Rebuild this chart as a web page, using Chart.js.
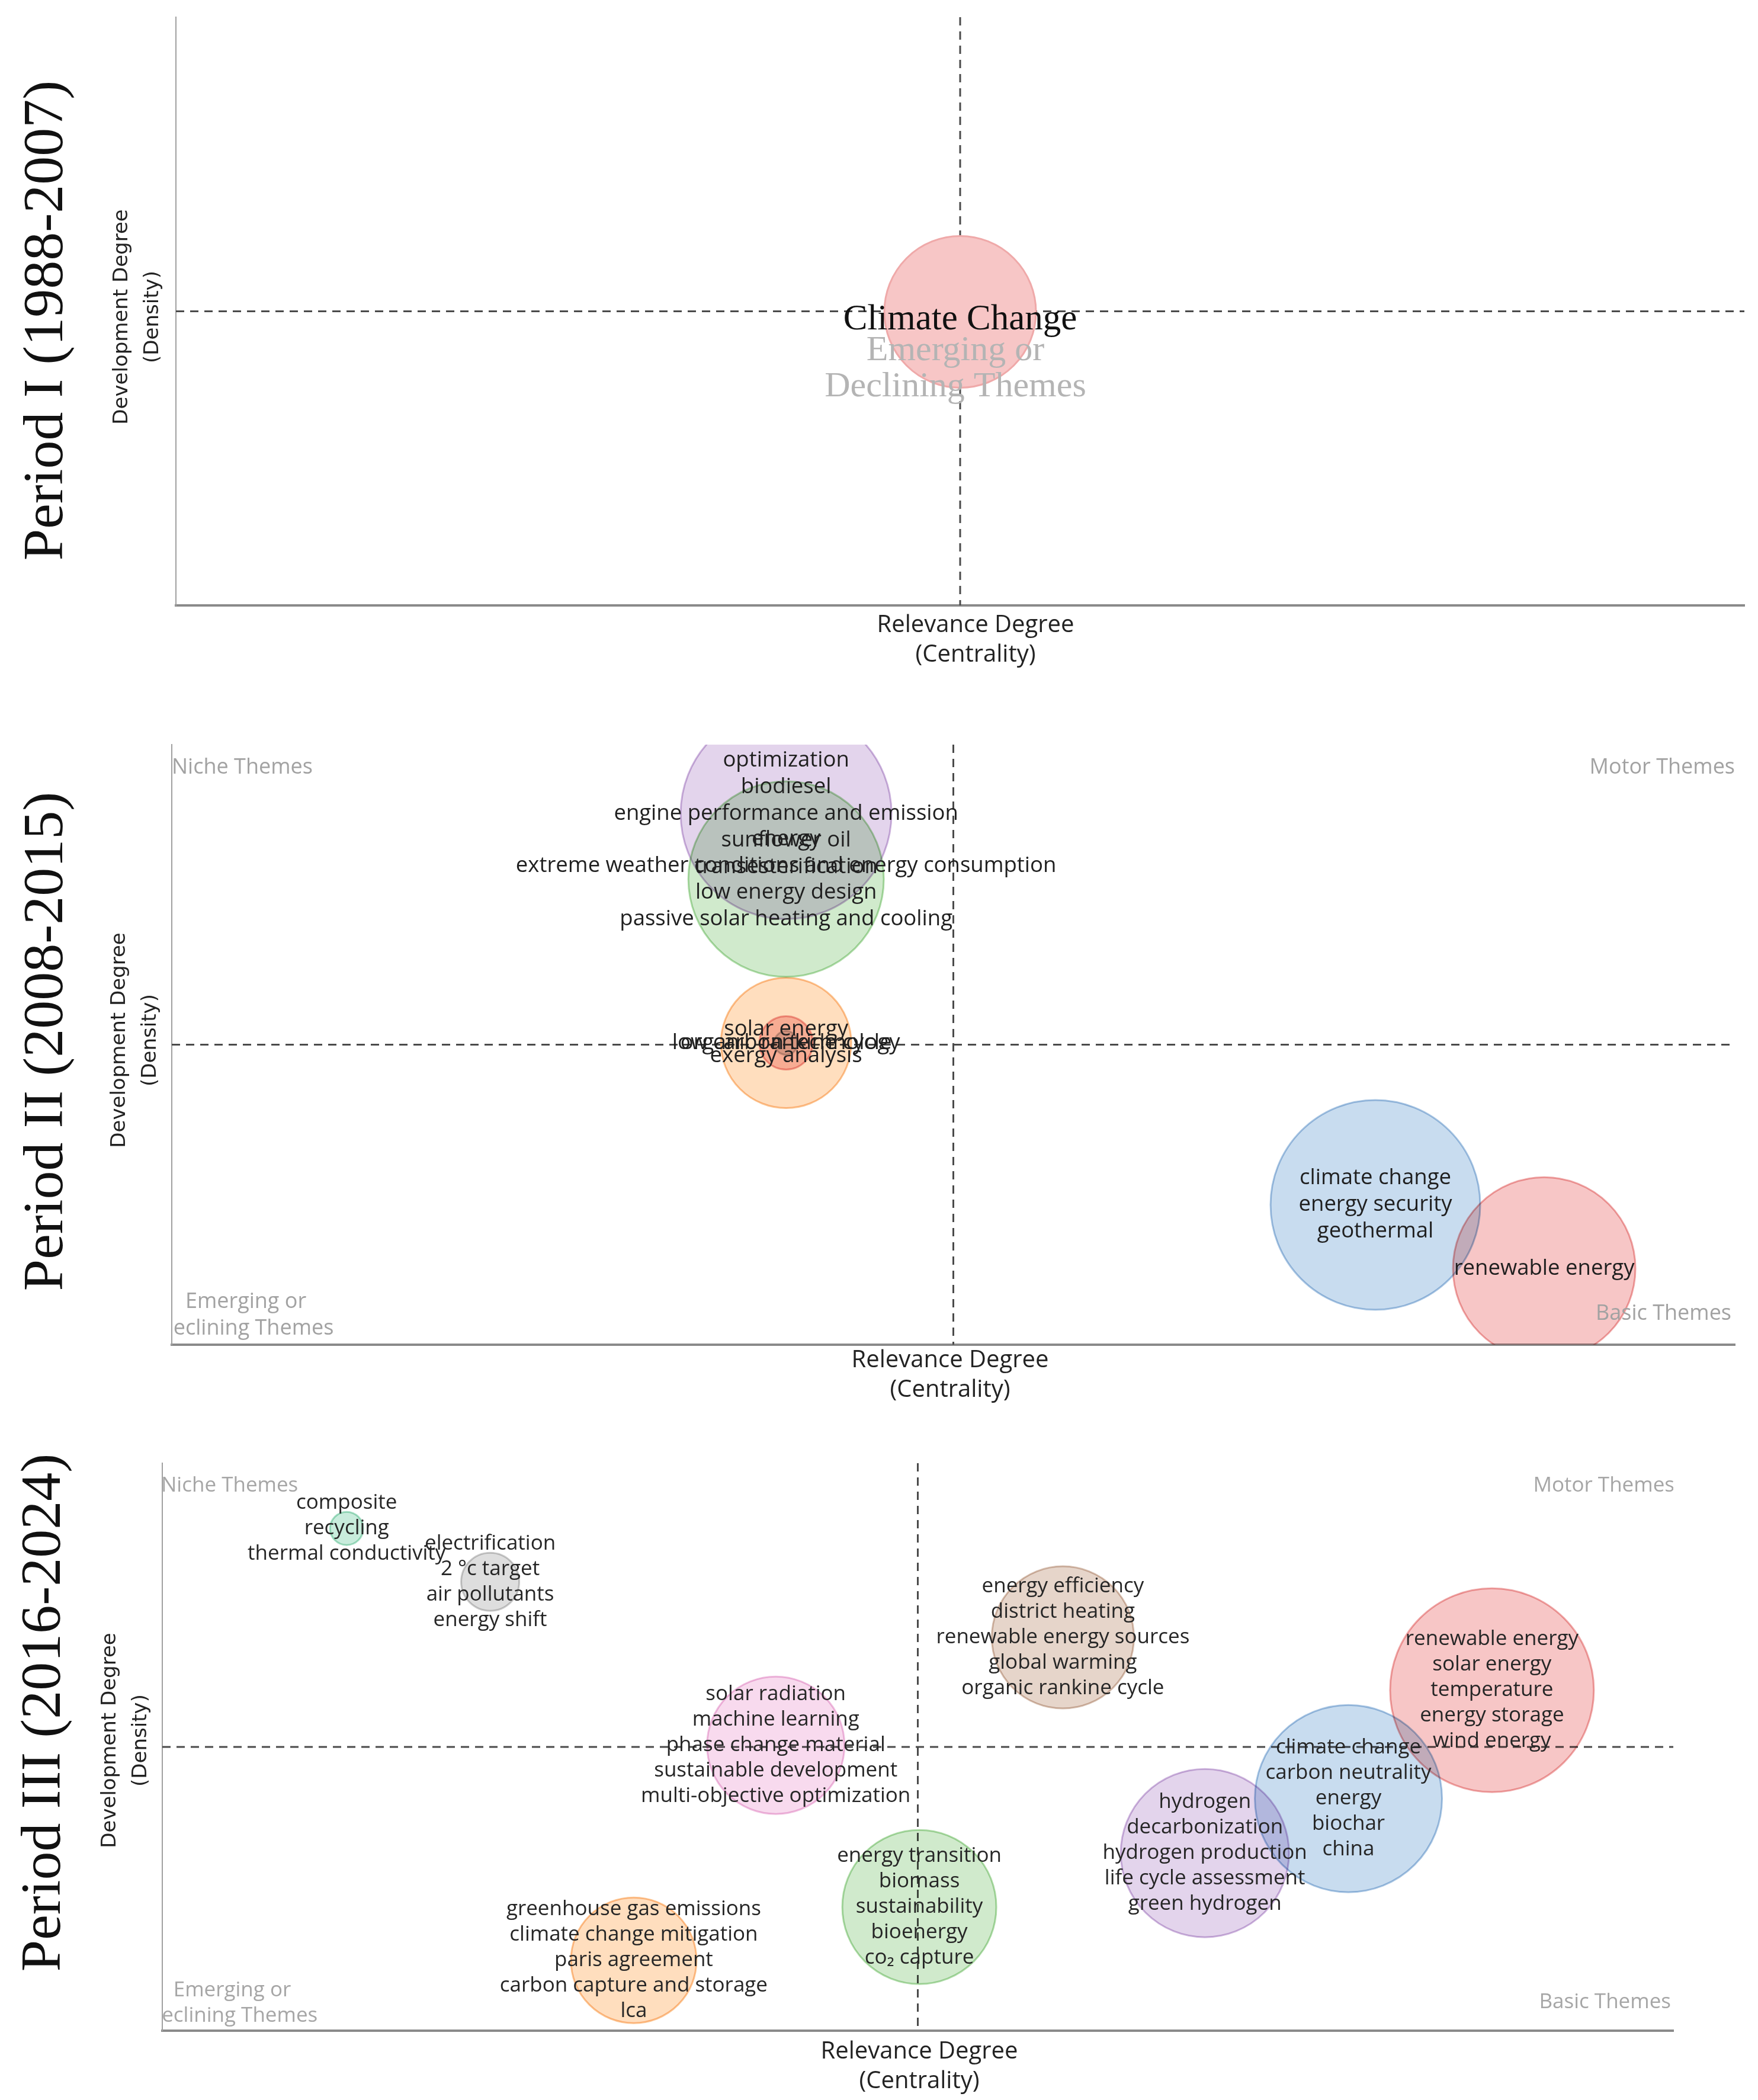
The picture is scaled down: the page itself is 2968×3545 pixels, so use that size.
<!DOCTYPE html>
<html>
<head>
<meta charset="utf-8">
<script src="https://cdn.jsdelivr.net/npm/chart.js@4.4.1/dist/chart.umd.min.js"></script>
<style>
    html, body { margin: 0; padding: 0; background: #fff; }
    #page { position: relative; width: 2968px; height: 3545px; }
    canvas { position: absolute; left: 0; }
</style>
</head>
<body>
<div id="page">
    <canvas id="period1" width="2968" height="1160" style="top:0"></canvas>
    <canvas id="period2" width="2968" height="1240" style="top:1160px"></canvas>
    <canvas id="period3" width="2968" height="1145" style="top:2400px"></canvas>
</div>
<script>
// Period I (1988-2007)
const p1Themes = [['Climate Change']];
const p1Centrality = [50.0];
const p1Density = [49.9];
const p1Weight = [128];

// Period II (2008-2015)
const p2Themes = [
    ['optimization', 'biodiesel', 'engine performance and emission', 'sunflower oil', 'transesterification'],
    ['energy', 'extreme weather conditions and energy consumption', 'low energy design', 'passive solar heating and cooling'],
    ['solar energy', 'exergy analysis'],
    ['low carbon technology'],
    ['organic rankine cycle'],
    ['climate change', 'energy security', 'geothermal'],
    ['renewable energy'],
];
const p2Centrality = [39.3, 39.3, 39.3, 39.3, 39.3, 77.0, 87.8];
const p2Density = [88.5, 77.6, 50.3, 50.3, 50.3, 23.3, 12.7];
const p2Weight = [178, 165, 110, 45, 20, 177, 154];

// Period III (2016-2024)
const p3Themes = [
    ['composite', 'recycling', 'thermal conductivity'],
    ['electrification', '2 °c target', 'air pollutants', 'energy shift'],
    ['energy efficiency', 'district heating', 'renewable energy sources', 'global warming', 'organic rankine cycle'],
    ['renewable energy', 'solar energy', 'temperature', 'energy storage', 'wind energy'],
    ['solar radiation', 'machine learning', 'phase change material', 'sustainable development', 'multi-objective optimization'],
    ['climate change', 'carbon neutrality', 'energy', 'biochar', 'china'],
    ['hydrogen', 'decarbonization', 'hydrogen production', 'life cycle assessment', 'green hydrogen'],
    ['energy transition', 'biomass', 'sustainability', 'bioenergy', 'co\u2082 capture'],
    ['greenhouse gas emissions', 'climate change mitigation', 'paris agreement', 'carbon capture and storage', 'lca'],
];
const p3Centrality = [12.2, 21.7, 59.6, 88.0, 40.6, 78.5, 69.0, 50.1, 31.2];
const p3Density = [88.5, 79.1, 69.3, 60.0, 50.3, 40.9, 31.3, 21.8, 12.4];
const p3Weight = [28, 49, 120, 172, 116, 158, 142, 130, 106];

const quadrantMid = 50;

// light tints, combined with multiply blending where bubbles overlap
const palette = {
    red: { fill: '#f7c6c6', line: '#efa9a9' },
    blue: { fill: '#c8dcef', line: '#a9c6e3' },
    purple: { fill: '#e3d4ec', line: '#cfb7de' },
    green: { fill: '#d0eacc', line: '#b0dca9' },
    orange: { fill: '#ffdebe', line: '#fbc592' },
    pink: { fill: '#f8daee', line: '#efbfe0' },
    brown: { fill: '#e6d5ca', line: '#d6bfb0' },
    gray: { fill: '#dedede', line: '#cbcbcb' },
    teal: { fill: '#c8ecdc', line: '#a8dfc6' },
};

const quadLines = {
    id: 'quadLines',
    beforeDatasetsDraw(chart) {
        const { ctx, chartArea: a, scales: { x, y } } = chart;
        const px = x.getPixelForValue(quadrantMid);
        const py = y.getPixelForValue(quadrantMid);
        ctx.save();
        ctx.strokeStyle = '#4a4a4a';
        ctx.lineWidth = 3;
        ctx.setLineDash([14, 10]);
        ctx.beginPath();
        ctx.moveTo(px, a.top);
        ctx.lineTo(px, a.bottom);
        ctx.moveTo(a.left, py);
        ctx.lineTo(a.right, py);
        ctx.stroke();
        ctx.restore();
    },
};

const blend = {
    id: 'blend',
    beforeDatasetsDraw(chart, args, opts) {
        chart.ctx.globalCompositeOperation = opts.mode;
    },
    afterDatasetsDraw(chart) {
        chart.ctx.globalCompositeOperation = 'source-over';
    },
};

const themeLabels = {
    id: 'themeLabels',
    afterDatasetsDraw(chart, args, opts) {
        const { ctx } = chart;
        const meta = chart.getDatasetMeta(0);
        ctx.save();
        ctx.font = opts.font;
        ctx.fillStyle = opts.color;
        ctx.textAlign = 'center';
        ctx.textBaseline = 'middle';
        opts.themes.forEach((lines, i) => {
            const pt = meta.data[i];
            const start = pt.y - (lines.length - 1) * opts.lineGap / 2 + opts.offset;
            lines.forEach((t, k) => ctx.fillText(t, pt.x, start + k * opts.lineGap));
        });
        ctx.restore();
    },
};

const panelText = {
    id: 'panelText',
    afterDraw(chart, args, opts) {
        const { ctx, chartArea: a } = chart;
        ctx.save();
        ctx.textBaseline = 'middle';

        // period name
        ctx.save();
        ctx.translate(opts.period.x, opts.period.y);
        ctx.rotate(-Math.PI / 2);
        ctx.font = '96px "Liberation Serif", serif';
        ctx.fillStyle = '#111';
        ctx.textAlign = 'center';
        ctx.fillText(opts.period.text, 0, 0);
        ctx.restore();

        // y axis title
        ctx.save();
        ctx.translate(opts.yTitle.x, opts.yTitle.y);
        ctx.rotate(-Math.PI / 2);
        ctx.font = '34px "DejaVu Sans", sans-serif';
        ctx.fillStyle = '#222';
        ctx.textAlign = 'center';
        ctx.fillText('Development Degree', 0, 0);
        ctx.fillText('(Density)', 0, 52);
        ctx.restore();

        // x axis title
        ctx.font = '40px "Open Sans", sans-serif';
        ctx.fillStyle = '#222';
        ctx.textAlign = 'center';
        ctx.fillText('Relevance Degree', opts.xTitle.x, opts.xTitle.y);
        ctx.fillText('(Centrality)', opts.xTitle.x, opts.xTitle.y + 50);

        // quadrant names, clipped to the plot
        ctx.beginPath();
        ctx.rect(a.left, a.top, a.right - a.left, a.bottom - a.top);
        ctx.clip();
        ctx.font = opts.quadFont;
        ctx.fillStyle = opts.quadColor;
        opts.quadrants.forEach(q => {
            ctx.textAlign = q.align;
            ctx.fillText(q.text, q.x, q.y);
        });
        ctx.restore();
    },
};

function buildPanel(id, cfg) {
    const points = cfg.centrality.map((c, i) => ({ x: c, y: cfg.density[i], r: cfg.weight[i] }));
    return new Chart(document.getElementById(id), {
        type: 'bubble',
        data: {
            datasets: [{
                data: points,
                backgroundColor: cfg.colors.map(c => c.fill),
                borderColor: cfg.colors.map(c => c.line),
                borderWidth: 3,
            }],
        },
        options: {
            responsive: false,
            animation: false,
            devicePixelRatio: 1,
            events: [],
            layout: { padding: cfg.padding, autoPadding: false },
            plugins: {
                legend: { display: false },
                tooltip: { enabled: false },
                blend: { mode: cfg.blendMode },
                themeLabels: { themes: cfg.themes, font: cfg.labelFont, color: cfg.labelColor, lineGap: cfg.lineGap, offset: cfg.labelOffset },
                panelText: cfg.text,
            },
            scales: {
                x: {
                    type: 'linear', min: 0, max: 100,
                    ticks: { display: false },
                    grid: { display: false, drawTicks: false },
                    border: { display: true, color: '#8a8a8a', width: 4 },
                },
                y: {
                    type: 'linear', min: 0, max: 100,
                    ticks: { display: false },
                    grid: { display: false, drawTicks: false },
                    border: { display: true, color: '#a0a0a0', width: 2 },
                },
            },
        },
        plugins: [quadLines, blend, themeLabels, panelText],
    });
}

document.addEventListener('DOMContentLoaded', () => {
    buildPanel('period1', {
        themes: p1Themes, centrality: p1Centrality, density: p1Density, weight: p1Weight,
        colors: [palette.red], blendMode: 'source-over',
        padding: { left: 297, right: 23, top: 29, bottom: 138 },
        labelFont: '61px "Liberation Serif", serif', labelColor: '#111', lineGap: 60, labelOffset: 13,
        text: {
            period: { text: 'Period I (1988-2007)', x: 80, y: 541 },
            yTitle: { x: 206, y: 535 },
            xTitle: { x: 1647, y: 1056 },
            quadFont: '60px "Liberation Serif", serif',
            quadColor: '#b4b4b4',
            quadrants: [
                { text: 'Emerging or', x: 1613, y: 592, align: 'center' },
                { text: 'Declining Themes', x: 1613, y: 653, align: 'center' },
            ],
        },
    });

    buildPanel('period2', {
        themes: p2Themes, centrality: p2Centrality, density: p2Density, weight: p2Weight,
        colors: [palette.purple, palette.green, palette.orange, palette.red, palette.gray, palette.blue, palette.red],
        blendMode: 'multiply',
        padding: { left: 290, right: 39, top: 97, bottom: 130 },
        labelFont: '36.5px "Open Sans", sans-serif', labelColor: '#1f1f1f', lineGap: 45, labelOffset: 0,
        text: {
            period: { text: 'Period II (2008-2015)', x: 80, y: 598 },
            yTitle: { x: 202, y: 596 },
            xTitle: { x: 1604, y: 1137 },
            quadFont: '36px "Open Sans", sans-serif',
            quadColor: '#a2a2a2',
            quadrants: [
                { text: 'Niche Themes', x: 290, y: 136, align: 'left' },
                { text: 'Motor Themes', x: 2929, y: 136, align: 'right' },
                { text: 'Emerging or', x: 415, y: 1038, align: 'center' },
                { text: 'Declining Themes', x: 415, y: 1083, align: 'center' },
                { text: 'Basic Themes', x: 2923, y: 1058, align: 'right' },
            ],
        },
    });

    buildPanel('period3', {
        themes: p3Themes, centrality: p3Centrality, density: p3Density, weight: p3Weight,
        colors: [palette.teal, palette.gray, palette.brown, palette.red, palette.pink, palette.blue, palette.purple, palette.green, palette.orange],
        blendMode: 'multiply',
        padding: { left: 274, right: 143, top: 70, bottom: 117 },
        labelFont: '35px "Open Sans", sans-serif', labelColor: '#262626', lineGap: 43, labelOffset: 0,
        text: {
            period: { text: 'Period III (2016-2024)', x: 76, y: 491 },
            yTitle: { x: 186, y: 538 },
            xTitle: { x: 1552, y: 1064 },
            quadFont: '35px "Open Sans", sans-serif',
            quadColor: '#a6a6a6',
            quadrants: [
                { text: 'Niche Themes', x: 272, y: 108, align: 'left' },
                { text: 'Motor Themes', x: 2827, y: 108, align: 'right' },
                { text: 'Emerging or', x: 392, y: 960, align: 'center' },
                { text: 'Declining Themes', x: 392, y: 1003, align: 'center' },
                { text: 'Basic Themes', x: 2821, y: 980, align: 'right' },
            ],
        },
    });
});
</script>
</body>
</html>
